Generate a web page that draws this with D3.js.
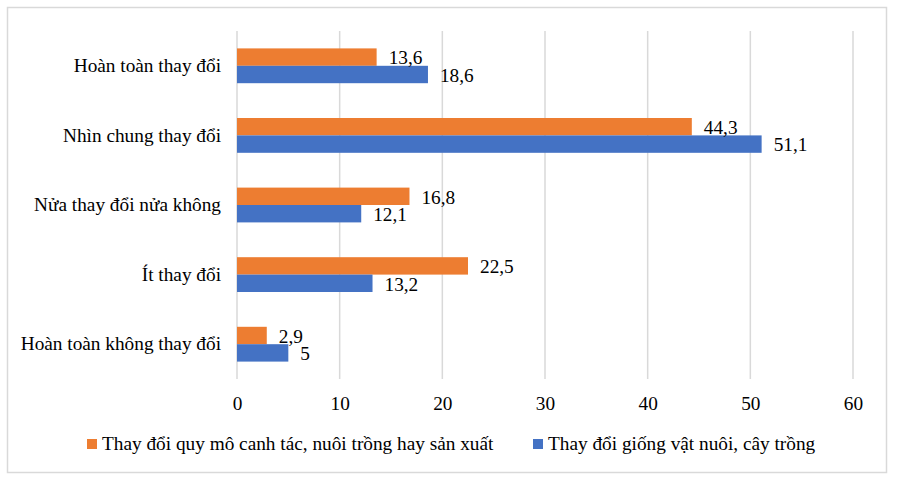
<!DOCTYPE html>
<html>
<head>
<meta charset="utf-8">
<script src="https://cdn.jsdelivr.net/npm/d3@7"></script>
</head>
<body style="margin:0;background:#fff">
<div id="chart"></div>
<script>
const CATEGORIES = ['Hoàn toàn thay đổi', 'Nhìn chung thay đổi', 'Nửa thay đổi nửa không', 'Ít thay đổi', 'Hoàn toàn không thay đổi'];
const SERIES_NAMES = ['Thay đổi quy mô canh tác, nuôi trồng hay sản xuất', 'Thay đổi giống vật nuôi, cây trồng'];
const SCALE_VALUES = [13.6, 44.3, 16.8, 22.5, 2.9];
const BREED_VALUES = [18.6, 51.1, 12.1, 13.2, 5];
const X_TICKS = [0, 10, 20, 30, 40, 50, 60];
const COLORS = ['#ED7D31', '#4472C4'];

var FONT = '"Liberation Serif"';
var FS = '19.3px';
var W = 899, H = 479;
var margin = {top: 31, right: 46, bottom: 100, left: 237},
    width  = W - margin.left - margin.right,
    height = H - margin.top - margin.bottom;

var root = d3.select('#chart').append('svg')
  .attr('width', W).attr('height', H);

// outer frame
root.append('rect')
  .attr('x', 7.5).attr('y', 7.5)
  .attr('width', 879).attr('height', 465)
  .attr('fill', '#fff').attr('stroke', '#d9d9d9').attr('stroke-width', 1.5);

var svg = root.append('g')
  .attr('transform', 'translate(' + margin.left + ',' + margin.top + ')');

var x = d3.scaleLinear().domain([0, 60]).range([0, width]);
var y = d3.scaleBand().domain(CATEGORIES).range([0, height]).paddingInner(0.5).paddingOuter(0.25);
var ySub = d3.scaleBand().domain([0, 1]).range([0, y.bandwidth()]);

// gridlines
svg.selectAll('.grid')
  .data(X_TICKS)
  .enter().append('line')
  .attr('x1', d => x(d)).attr('x2', d => x(d))
  .attr('y1', 0).attr('y2', height)
  .attr('stroke', '#d9d9d9').attr('stroke-width', 1.5);

// x axis labels
var xAxis = svg.append('g')
  .attr('transform', 'translate(0,' + height + ')')
  .call(d3.axisBottom(x).tickValues(X_TICKS).tickSize(0).tickPadding(17).tickFormat(d => d));
xAxis.select('.domain').remove();
xAxis.selectAll('text').style('font-family', FONT).style('font-size', FS).style('fill', '#000');

// y axis labels
var yAxis = svg.append('g')
  .call(d3.axisLeft(y).tickSize(0).tickPadding(16));
yAxis.select('.domain').remove();
yAxis.selectAll('text').style('font-family', FONT).style('font-size', FS).style('fill', '#000');

var data = CATEGORIES.map((c, i) => ({cat: c, vals: [SCALE_VALUES[i], BREED_VALUES[i]]}));
var fmt = v => String(v).replace('.', ',');

var groups = svg.selectAll('.grp')
  .data(data)
  .enter().append('g')
  .attr('transform', d => 'translate(0,' + y(d.cat) + ')');

groups.selectAll('rect')
  .data(d => d.vals)
  .enter().append('rect')
  .attr('x', 0)
  .attr('y', (d, i) => ySub(i))
  .attr('width', d => x(d))
  .attr('height', ySub.bandwidth())
  .attr('fill', (d, i) => COLORS[i]);

groups.selectAll('.lbl')
  .data(d => d.vals)
  .enter().append('text')
  .attr('x', d => x(d) + 12)
  .attr('y', (d, i) => ySub(i) + ySub.bandwidth() / 2)
  .attr('dy', '0.38em')
  .style('font-family', FONT).style('font-size', FS)
  .text(fmt);

// legend
var legendX = [87, 533];
var legend = root.selectAll('.leg')
  .data(SERIES_NAMES)
  .enter().append('g')
  .attr('transform', (d, i) => 'translate(' + legendX[i] + ',444)');
legend.append('rect')
  .attr('x', 0).attr('y', -5).attr('width', 10).attr('height', 10)
  .attr('fill', (d, i) => COLORS[i]);
legend.append('text')
  .attr('x', 15).attr('dy', '0.33em')
  .style('font-family', FONT).style('font-size', FS)
  .text(d => d);
</script>
</body>
</html>
